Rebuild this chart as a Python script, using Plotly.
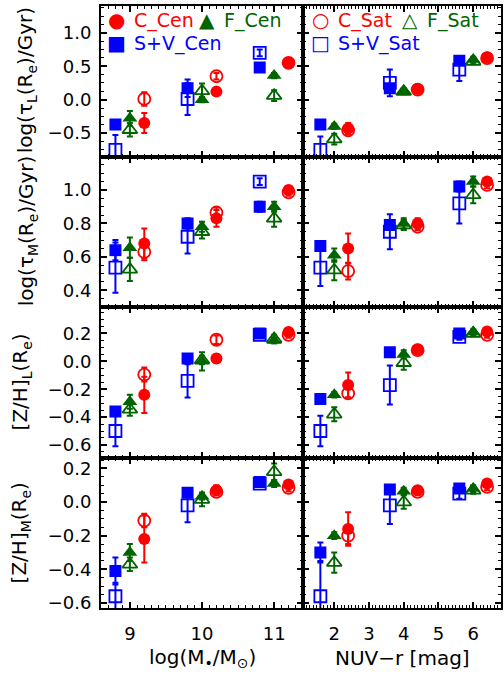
import plotly.graph_objects as go
from plotly.subplots import make_subplots

# ---------------- data ----------------
# x positions of the three bins (offset per class)
mass_x_SV = [8.8, 9.8, 10.8]
mass_x_F = [9.0, 10.0, 11.0]
mass_x_C = [9.2, 10.2, 11.2]
nuv_x_SV = [1.6, 3.6, 5.6]
nuv_x_F = [2.0, 4.0, 6.0]
nuv_x_C = [2.4, 4.4, 6.4]

# log tau_L  vs mass
tauL_mass_C_cen = [-0.35, 0.12, 0.55];  tauL_mass_C_cen_err = [0.15, 0.05, 0.03]
tauL_mass_C_sat = [0.01, 0.35, 0.55];   tauL_mass_C_sat_err = [0.10, 0.05, 0.03]
tauL_mass_F_cen = [-0.28, 0.00, 0.36];  tauL_mass_F_cen_err = [0.11, 0.04, 0.04]
tauL_mass_F_sat = [-0.45, 0.13, 0.06];  tauL_mass_F_sat_err = [0.10, 0.11, 0.08]
tauL_mass_SV_cen = [-0.37, 0.17, 0.48]; tauL_mass_SV_cen_err = [0.04, 0.13, 0.04]
tauL_mass_SV_sat = [-0.75, 0.01, 0.70]; tauL_mass_SV_sat_err = [0.22, 0.24, 0.05]
# log tau_L  vs NUV-r
tauL_nuv_C_cen = [-0.43, 0.16, 0.63];   tauL_nuv_C_cen_err = [0.08, 0.04, 0.04]
tauL_nuv_C_sat = [-0.46, 0.15, 0.62];   tauL_nuv_C_sat_err = [0.06, 0.04, 0.03]
tauL_nuv_F_cen = [-0.40, 0.13, 0.60];   tauL_nuv_F_cen_err = [0.04, 0.04, 0.04]
tauL_nuv_F_sat = [-0.59, 0.12, 0.57];   tauL_nuv_F_sat_err = [0.08, 0.04, 0.04]
tauL_nuv_SV_cen = [-0.37, 0.17, 0.58];  tauL_nuv_SV_cen_err = [0.03, 0.04, 0.03]
tauL_nuv_SV_sat = [-0.75, 0.25, 0.45];  tauL_nuv_SV_sat_err = [0.20, 0.20, 0.17]

# log tau_M vs mass
tauM_mass_C_cen = [0.68, 0.83, 1.00];   tauM_mass_C_cen_err = [0.09, 0.05, 0.02]
tauM_mass_C_sat = [0.63, 0.865, 0.985]; tauM_mass_C_sat_err = [0.05, 0.03, 0.02]
tauM_mass_F_cen = [0.655, 0.78, 0.90];  tauM_mass_F_cen_err = [0.06, 0.03, 0.03]
tauM_mass_F_sat = [0.525, 0.75, 0.83];  tauM_mass_F_sat_err = [0.07, 0.04, 0.05]
tauM_mass_SV_cen = [0.64, 0.80, 0.90];  tauM_mass_SV_cen_err = [0.06, 0.03, 0.03]
tauM_mass_SV_sat = [0.535, 0.72, 1.05]; tauM_mass_SV_sat_err = [0.15, 0.10, 0.02]
# log tau_M vs NUV-r
tauM_nuv_C_cen = [0.65, 0.80, 1.05];    tauM_nuv_C_cen_err = [0.09, 0.03, 0.02]
tauM_nuv_C_sat = [0.515, 0.78, 1.03];   tauM_nuv_C_sat_err = [0.05, 0.02, 0.02]
tauM_nuv_F_cen = [0.61, 0.80, 1.05];    tauM_nuv_F_cen_err = [0.04, 0.03, 0.03]
tauM_nuv_F_sat = [0.52, 0.79, 0.97];    tauM_nuv_F_sat_err = [0.06, 0.03, 0.05]
tauM_nuv_SV_cen = [0.665, 0.79, 1.02];  tauM_nuv_SV_cen_err = [0.03, 0.03, 0.03]
tauM_nuv_SV_sat = [0.535, 0.75, 0.92];  tauM_nuv_SV_sat_err = [0.11, 0.105, 0.12]

# [Z/H]_L vs mass
zhL_mass_C_cen = [-0.24, 0.02, 0.21];   zhL_mass_C_cen_err = [0.13, 0.03, 0.02]
zhL_mass_C_sat = [-0.095, 0.155, 0.19]; zhL_mass_C_sat_err = [0.05, 0.03, 0.02]
zhL_mass_F_cen = [-0.29, 0.00, 0.15];   zhL_mass_F_cen_err = [0.05, 0.065, 0.02]
zhL_mass_F_sat = [-0.345, 0.01, 0.16];  zhL_mass_F_sat_err = [0.045, 0.03, 0.03]
zhL_mass_SV_cen = [-0.36, 0.02, 0.20];  zhL_mass_SV_cen_err = [0.03, 0.03, 0.02]
zhL_mass_SV_sat = [-0.50, -0.14, 0.19]; zhL_mass_SV_sat_err = [0.11, 0.12, 0.02]
# [Z/H]_L vs NUV-r
zhL_nuv_C_cen = [-0.17, 0.085, 0.215];  zhL_nuv_C_cen_err = [0.09, 0.02, 0.02]
zhL_nuv_C_sat = [-0.23, 0.08, 0.19];    zhL_nuv_C_sat_err = [0.03, 0.02, 0.02]
zhL_nuv_F_cen = [-0.24, 0.05, 0.21];    zhL_nuv_F_cen_err = [0.02, 0.03, 0.02]
zhL_nuv_F_sat = [-0.38, -0.01, 0.20];   zhL_nuv_F_sat_err = [0.05, 0.05, 0.02]
zhL_nuv_SV_cen = [-0.27, 0.065, 0.20];  zhL_nuv_SV_cen_err = [0.02, 0.02, 0.02]
zhL_nuv_SV_sat = [-0.50, -0.17, 0.175]; zhL_nuv_SV_sat_err = [0.11, 0.14, 0.02]

# [Z/H]_M vs mass
zhM_mass_C_cen = [-0.22, 0.07, 0.105];  zhM_mass_C_cen_err = [0.14, 0.03, 0.02]
zhM_mass_C_sat = [-0.11, 0.06, 0.085];  zhM_mass_C_sat_err = [0.04, 0.02, 0.02]
zhM_mass_F_cen = [-0.30, 0.035, 0.11];  zhM_mass_F_cen_err = [0.05, 0.02, 0.02]
zhM_mass_F_sat = [-0.37, 0.015, 0.18];  zhM_mass_F_sat_err = [0.04, 0.04, 0.05]
zhM_mass_SV_cen = [-0.41, 0.055, 0.12]; zhM_mass_SV_cen_err = [0.08, 0.02, 0.02]
zhM_mass_SV_sat = [-0.56, -0.02, 0.11]; zhM_mass_SV_sat_err = [0.08, 0.10, 0.02]
# [Z/H]_M vs NUV-r
zhM_nuv_C_cen = [-0.16, 0.07, 0.11];    zhM_nuv_C_cen_err = [0.10, 0.02, 0.02]
zhM_nuv_C_sat = [-0.20, 0.06, 0.09];    zhM_nuv_C_sat_err = [0.05, 0.02, 0.02]
zhM_nuv_F_cen = [-0.20, 0.065, 0.08];   zhM_nuv_F_cen_err = [0.02, 0.02, 0.02]
zhM_nuv_F_sat = [-0.36, 0.00, 0.07];    zhM_nuv_F_sat_err = [0.06, 0.04, 0.02]
zhM_nuv_SV_cen = [-0.30, 0.075, 0.08];  zhM_nuv_SV_cen_err = [0.06, 0.02, 0.02]
zhM_nuv_SV_sat = [-0.56, -0.02, 0.05];  zhM_nuv_SV_sat_err = [0.21, 0.11, 0.03]

# tick labels
mass_ticks = [9, 10, 11]
nuv_ticks = [2, 3, 4, 5, 6]
tauL_ticks = [-0.5, 0.0, 0.5, 1.0]
tauM_ticks = [0.4, 0.6, 0.8, 1.0]
zhL_ticks = [-0.6, -0.4, -0.2, 0.0, 0.2]
zhM_ticks = [-0.6, -0.4, -0.2, 0.0, 0.2]

y_titles = ["log(τ<sub>L</sub>(R<sub>e</sub>)/Gyr)",
            "log(τ<sub>M</sub>(R<sub>e</sub>)/Gyr)",
            "[Z/H]<sub>L</sub>(R<sub>e</sub>)",
            "[Z/H]<sub>M</sub>(R<sub>e</sub>)"]
x_titles = ["log(M<sub>•</sub>/M<sub>⊙</sub>)", "NUV−r [mag]"]

# ---------------- layout helpers ----------------
W, H = 504, 675
L, R, T, B = 101, 1, 6, 67
PW, PH = W - L - R, H - T - B

def pxx(px):
    return (px - L) / PW

def pxy(py):
    return (H - B - py) / PH

RED, BLUE, GREEN = "#FF0000", "#0000FF", "#006400"
FONT = "DejaVu Sans"

fig = make_subplots(rows=4, cols=2, column_widths=[203, 199],
                    horizontal_spacing=0, vertical_spacing=0)

rows = [
    dict(name="tauL", rng=[-0.85, 1.40], ticks=tauL_ticks, minor=0.125,
         mass=(tauL_mass_C_cen, tauL_mass_C_cen_err, tauL_mass_C_sat, tauL_mass_C_sat_err,
               tauL_mass_F_cen, tauL_mass_F_cen_err, tauL_mass_F_sat, tauL_mass_F_sat_err,
               tauL_mass_SV_cen, tauL_mass_SV_cen_err, tauL_mass_SV_sat, tauL_mass_SV_sat_err),
         nuv=(tauL_nuv_C_cen, tauL_nuv_C_cen_err, tauL_nuv_C_sat, tauL_nuv_C_sat_err,
              tauL_nuv_F_cen, tauL_nuv_F_cen_err, tauL_nuv_F_sat, tauL_nuv_F_sat_err,
              tauL_nuv_SV_cen, tauL_nuv_SV_cen_err, tauL_nuv_SV_sat, tauL_nuv_SV_sat_err)),
    dict(name="tauM", rng=[0.30, 1.20], ticks=tauM_ticks, minor=0.05,
         mass=(tauM_mass_C_cen, tauM_mass_C_cen_err, tauM_mass_C_sat, tauM_mass_C_sat_err,
               tauM_mass_F_cen, tauM_mass_F_cen_err, tauM_mass_F_sat, tauM_mass_F_sat_err,
               tauM_mass_SV_cen, tauM_mass_SV_cen_err, tauM_mass_SV_sat, tauM_mass_SV_sat_err),
         nuv=(tauM_nuv_C_cen, tauM_nuv_C_cen_err, tauM_nuv_C_sat, tauM_nuv_C_sat_err,
              tauM_nuv_F_cen, tauM_nuv_F_cen_err, tauM_nuv_F_sat, tauM_nuv_F_sat_err,
              tauM_nuv_SV_cen, tauM_nuv_SV_cen_err, tauM_nuv_SV_sat, tauM_nuv_SV_sat_err)),
    dict(name="zhL", rng=[-0.69, 0.39], ticks=zhL_ticks, minor=0.05,
         mass=(zhL_mass_C_cen, zhL_mass_C_cen_err, zhL_mass_C_sat, zhL_mass_C_sat_err,
               zhL_mass_F_cen, zhL_mass_F_cen_err, zhL_mass_F_sat, zhL_mass_F_sat_err,
               zhL_mass_SV_cen, zhL_mass_SV_cen_err, zhL_mass_SV_sat, zhL_mass_SV_sat_err),
         nuv=(zhL_nuv_C_cen, zhL_nuv_C_cen_err, zhL_nuv_C_sat, zhL_nuv_C_sat_err,
              zhL_nuv_F_cen, zhL_nuv_F_cen_err, zhL_nuv_F_sat, zhL_nuv_F_sat_err,
              zhL_nuv_SV_cen, zhL_nuv_SV_cen_err, zhL_nuv_SV_sat, zhL_nuv_SV_sat_err)),
    dict(name="zhM", rng=[-0.63, 0.265], ticks=zhM_ticks, minor=0.05,
         mass=(zhM_mass_C_cen, zhM_mass_C_cen_err, zhM_mass_C_sat, zhM_mass_C_sat_err,
               zhM_mass_F_cen, zhM_mass_F_cen_err, zhM_mass_F_sat, zhM_mass_F_sat_err,
               zhM_mass_SV_cen, zhM_mass_SV_cen_err, zhM_mass_SV_sat, zhM_mass_SV_sat_err),
         nuv=(zhM_nuv_C_cen, zhM_nuv_C_cen_err, zhM_nuv_C_sat, zhM_nuv_C_sat_err,
              zhM_nuv_F_cen, zhM_nuv_F_cen_err, zhM_nuv_F_sat, zhM_nuv_F_sat_err,
              zhM_nuv_SV_cen, zhM_nuv_SV_cen_err, zhM_nuv_SV_sat, zhM_nuv_SV_sat_err)),
]

cols = [
    dict(key="mass", xs=(mass_x_C, mass_x_F, mass_x_SV), rng=[8.6, 11.4], ticks=mass_ticks),
    dict(key="nuv", xs=(nuv_x_C, nuv_x_F, nuv_x_SV), rng=[1.1, 6.8], ticks=nuv_ticks),
]

def add_pt(x, y, e, color, symbol, filled, r, c):
    fig.add_trace(go.Scatter(
        x=x, y=y, mode="markers", showlegend=False, cliponaxis=True,
        marker=dict(symbol=symbol if filled else symbol + "-open",
                    size=12 if "triangle" not in symbol else 13,
                    color=color, line=dict(color=color, width=0 if filled else 1.8)),
        error_y=dict(type="data", array=e, symmetric=True, color=color,
                     thickness=2, width=3)), row=r, col=c)

for ri, rw in enumerate(rows, start=1):
    for ci, cl in enumerate(cols, start=1):
        (Cc, Cce, Cs, Cse, Fc, Fce, Fs, Fse, Sc, Sce, Ss, Sse) = rw[cl["key"]]
        xC, xF, xS = cl["xs"]
        # satellites (open) first, centrals (filled) on top
        add_pt(xS, Ss, Sse, BLUE, "square", False, ri, ci)
        add_pt(xF, Fs, Fse, GREEN, "triangle-up", False, ri, ci)
        add_pt(xC, Cs, Cse, RED, "circle", False, ri, ci)
        add_pt(xS, Sc, Sce, BLUE, "square", True, ri, ci)
        add_pt(xF, Fc, Fce, GREEN, "triangle-up", True, ri, ci)
        add_pt(xC, Cc, Cce, RED, "circle", True, ri, ci)

        fig.update_xaxes(range=cl["rng"], tickmode="array", tickvals=cl["ticks"],
                         showticklabels=(ri == 4), ticks="inside", ticklen=6, tickwidth=1.5,
                         tickcolor="black", showline=True, linecolor="black", linewidth=2,
                         mirror="ticks", showgrid=False, zeroline=False,
                         ticklabelstandoff=8,
                         tickfont=dict(family=FONT, size=18, color="black"),
                         minor=dict(dtick=0.1, tick0=0, ticks="inside", ticklen=3,
                                    tickwidth=1, tickcolor="black", showgrid=False),
                         row=ri, col=ci)
        fig.update_yaxes(range=rw["rng"], tickmode="array", tickvals=rw["ticks"],
                         tickformat=".1f",
                         showticklabels=(ci == 1), ticks="inside", ticklen=6, tickwidth=1.5,
                         tickcolor="black", showline=True, linecolor="black", linewidth=2,
                         mirror="ticks", showgrid=False, zeroline=False,
                         ticklabelstandoff=4,
                         tickfont=dict(family=FONT, size=18, color="black"),
                         minor=dict(dtick=rw["minor"], tick0=0, ticks="inside", ticklen=3,
                                    tickwidth=1, tickcolor="black", showgrid=False),
                         row=ri, col=ci)

ann = []
# y titles
ytitle_pos = [(26, 80), (27, 231), (21, 382), (20, 533)]
for txt, (px, py) in zip(y_titles, ytitle_pos):
    ann.append(dict(text=txt, xref="paper", yref="paper", x=pxx(px), y=pxy(py),
                    xanchor="center", yanchor="middle", textangle=-90, showarrow=False,
                    font=dict(family=FONT, size=20, color="black")))
# x titles
for txt, px in zip(x_titles, [203, 404]):
    ann.append(dict(text=txt, xref="paper", yref="paper", x=pxx(px), y=pxy(658),
                    xanchor="center", yanchor="middle", showarrow=False,
                    font=dict(family=FONT, size=20, color="black")))

# legends
legend_items = [
    ("●", "C_Cen", RED, 117, 20), ("▲", "F_Cen", GREEN, 208, 20), ("■", "S+V_Cen", BLUE, 117, 43),
    ("○", "C_Sat", RED, 322, 20), ("△", "F_Sat", GREEN, 412, 20), ("□", "S+V_Sat", BLUE, 322, 43),
]
for sym, lab, col, px, py in legend_items:
    ann.append(dict(text=sym, xref="paper", yref="paper", x=pxx(px), y=pxy(py),
                    xanchor="center", yanchor="middle", showarrow=False,
                    font=dict(family=FONT, size=20, color=col)))
    ann.append(dict(text=lab, xref="paper", yref="paper", x=pxx(px + 15), y=pxy(py),
                    xanchor="left", yanchor="middle", showarrow=False,
                    font=dict(family=FONT, size=19, color=col)))

fig.update_layout(width=W, height=H, margin=dict(l=L, r=R, t=T, b=B),
                  paper_bgcolor="white", plot_bgcolor="white",
                  annotations=ann, showlegend=False)

fig.write_html("out.html", config={"displayModeBar": False},
               post_script="document.body.style.margin='0px';document.body.style.overflow='hidden';")
